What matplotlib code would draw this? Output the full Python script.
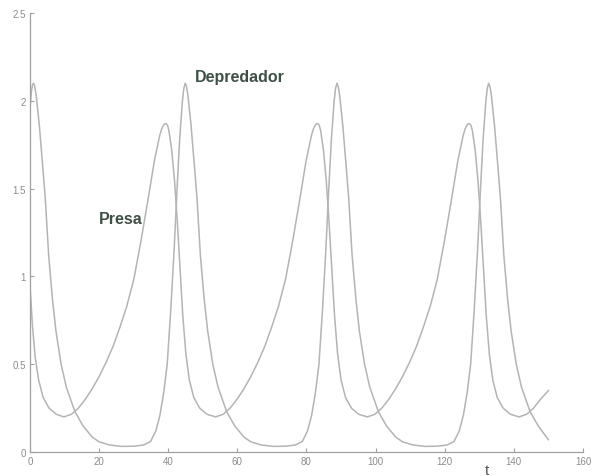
"""Lotka-Volterra time series: prey (Presa) and predator (Depredador) vs t.

Values read off the scanned reference figure.
"""
import matplotlib as mpl
import matplotlib.pyplot as plt

mpl.rcParams.update({
    "font.family": ["Liberation Sans", "DejaVu Sans"],
})

# Presa (broad peaks ~1.87)
presa_t = [
    0.0, 0.7, 1.5, 2.5, 3.8, 5.5, 7.6, 9.8,
    12.0, 14.0, 16.0, 18.0, 20.0, 22.0, 24.0, 26.0, 28.0, 30.0, 32.0, 34.0,
    36.0, 37.5, 38.1, 38.6, 39.0, 39.4, 39.8, 40.2, 41.0, 41.8, 42.6, 43.4,
    44.2, 45.1, 46.1, 47.4, 49.1, 51.2, 53.7,
    55.9, 57.9, 59.9, 61.9, 63.9, 65.9, 67.9, 69.9, 71.9, 73.9, 75.9, 77.9,
    79.9, 81.4, 82.0, 82.5, 82.9, 83.3, 83.7, 84.1, 84.9, 85.7, 86.5, 87.3,
    88.1, 89.0, 90.0, 91.3, 93.0, 95.1, 97.6,
    99.8, 101.8, 103.8, 105.8, 107.8, 109.8, 111.8, 113.8, 115.8, 117.8,
    119.8, 121.8, 123.8, 125.3, 125.9, 126.4, 126.8, 127.2, 127.6, 128.0,
    128.8, 129.6, 130.4, 131.2, 132.0, 132.9, 133.9, 135.2, 136.9, 139.0,
    141.5, 143.7, 145.7, 147.7, 150.0,
]
presa_y = [
    0.95, 0.72, 0.54, 0.41, 0.31, 0.25, 0.215, 0.20,
    0.215, 0.25, 0.30, 0.36, 0.43, 0.51, 0.60, 0.71, 0.83, 0.98, 1.19, 1.42,
    1.66, 1.80, 1.84, 1.86, 1.87, 1.87, 1.86, 1.83, 1.72, 1.55, 1.32, 1.05,
    0.78, 0.56, 0.41, 0.31, 0.25, 0.215, 0.20,
    0.215, 0.25, 0.30, 0.36, 0.43, 0.51, 0.60, 0.71, 0.83, 0.98, 1.19, 1.42,
    1.66, 1.80, 1.84, 1.86, 1.87, 1.87, 1.86, 1.83, 1.72, 1.55, 1.32, 1.05,
    0.78, 0.56, 0.41, 0.31, 0.25, 0.215, 0.20,
    0.215, 0.25, 0.30, 0.36, 0.43, 0.51, 0.60, 0.71, 0.83, 0.98,
    1.19, 1.42, 1.66, 1.80, 1.84, 1.86, 1.87, 1.87, 1.86, 1.83,
    1.72, 1.55, 1.32, 1.05, 0.78, 0.56, 0.41, 0.31, 0.25, 0.215,
    0.20, 0.215, 0.25, 0.30, 0.35,
]

# Depredador (sharp peaks ~2.1)
depre_t = [
    0.0, 0.4, 0.7, 1.0, 1.3, 1.8, 2.7, 3.5, 4.4, 5.4, 6.5, 7.5, 9.0, 10.5,
    13.0, 15.3, 18.0, 20.0, 23.0, 26.5, 30.0, 32.9,
    34.9, 36.4, 37.6, 38.7, 39.7, 40.7, 41.7, 42.5, 43.3, 44.1, 44.5, 44.9,
    45.3, 45.7, 46.6, 47.4, 48.3, 49.3, 50.4, 51.4, 52.9, 54.4, 56.9, 59.2,
    61.9, 63.9, 66.9, 70.4, 73.9, 76.8,
    78.8, 80.3, 81.5, 82.6, 83.6, 84.6, 85.6, 86.4, 87.2, 88.0, 88.4, 88.8,
    89.2, 89.6, 90.5, 91.3, 92.2, 93.2, 94.3, 95.3, 96.8, 98.3, 100.8,
    103.1, 105.8, 107.8, 110.8, 114.3, 117.8, 120.7,
    122.7, 124.2, 125.4, 126.5, 127.5, 128.5, 129.5, 130.3, 131.1, 131.9,
    132.3, 132.7, 133.1, 133.5, 134.4, 135.2, 136.1, 137.1, 138.2, 139.2,
    140.7, 142.2, 144.7, 147.0, 150.0,
]
depre_y = [
    1.96, 2.05, 2.09, 2.10, 2.09, 2.03, 1.86, 1.67, 1.45, 1.12, 0.87, 0.69,
    0.50, 0.37, 0.23, 0.15, 0.085, 0.058, 0.040, 0.032, 0.033, 0.04,
    0.06, 0.12, 0.21, 0.34, 0.50, 0.80, 1.15, 1.48, 1.78, 2.00, 2.07, 2.10,
    2.08, 2.03, 1.86, 1.67, 1.45, 1.12, 0.87, 0.69, 0.50, 0.37, 0.23, 0.15,
    0.085, 0.058, 0.040, 0.032, 0.033, 0.04,
    0.06, 0.12, 0.21, 0.34, 0.50, 0.80, 1.15, 1.48, 1.78, 2.00, 2.07, 2.10,
    2.08, 2.03, 1.86, 1.67, 1.45, 1.12, 0.87, 0.69, 0.50, 0.37, 0.23,
    0.15, 0.085, 0.058, 0.040, 0.032, 0.033, 0.04,
    0.06, 0.12, 0.21, 0.34, 0.50, 0.80, 1.15, 1.48, 1.78, 2.00,
    2.07, 2.10, 2.08, 2.03, 1.86, 1.67, 1.45, 1.12, 0.87, 0.69,
    0.50, 0.37, 0.23, 0.15, 0.07,
]

x_ticks = [0, 20, 40, 60, 80, 100, 120, 140, 160]
y_ticks = [0, 0.5, 1, 1.5, 2, 2.5]
y_tick_labels = ["0", "0.5", "1", "1.5", "2", "2.5"]

CURVE_COLOR = "#b4b4b4"
AXIS_COLOR = "#a0a0a0"
LABEL_COLOR = "#3e5046"


def main() -> None:
    fig = plt.figure(figsize=(5.93, 4.77), dpi=100)
    ax = fig.add_axes([0.0506, 0.0503, 0.9325, 0.9203])

    ax.plot(presa_t, presa_y, color=CURVE_COLOR, linewidth=1.1)
    ax.plot(depre_t, depre_y, color=CURVE_COLOR, linewidth=1.1)

    ax.set_xlim(0, 160)
    ax.set_ylim(0, 2.5)
    ax.set_xticks(x_ticks)
    ax.set_yticks(y_ticks)
    ax.set_yticklabels(y_tick_labels)

    for side in ("top", "right"):
        ax.spines[side].set_visible(False)
    for side in ("left", "bottom"):
        ax.spines[side].set_color(AXIS_COLOR)
        ax.spines[side].set_linewidth(0.9)
    ax.tick_params(direction="in", length=3, width=0.8, color=AXIS_COLOR,
                   labelcolor="#8c8c8c", labelsize=7, pad=3)

    ax.text(26.2, 1.33, "Presa", color=LABEL_COLOR, fontsize=11.5,
            fontweight="bold", ha="center", va="center")
    ax.text(60.6, 2.14, "Depredador", color=LABEL_COLOR, fontsize=11.5,
            fontweight="bold", ha="center", va="center")
    ax.text(132.3, -0.06, "t", color="#555555", fontsize=11,
            ha="center", va="top", clip_on=False)

    fig.savefig("out.png", dpi=100)
    plt.close(fig)


if __name__ == "__main__":
    main()
